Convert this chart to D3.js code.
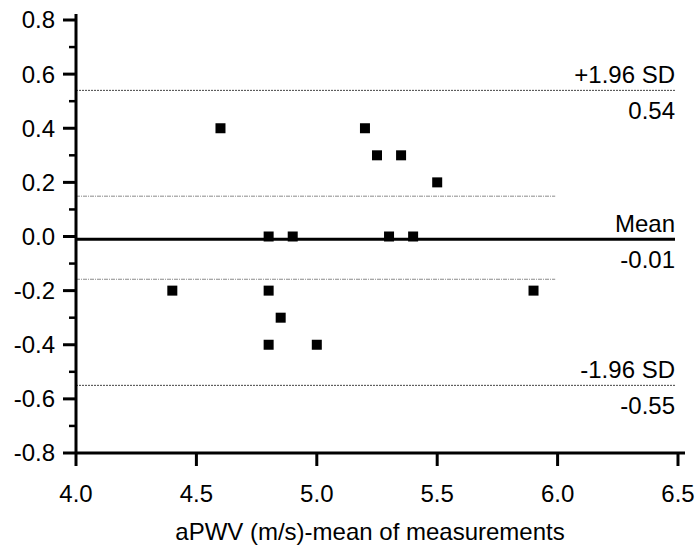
<!DOCTYPE html>
<html>
<head>
<meta charset="utf-8">
<script src="https://cdn.jsdelivr.net/npm/d3@7"></script>
<style>
  html, body { margin: 0; padding: 0; background: #fff; }
  svg text { font-family: "Liberation Sans", Arial, sans-serif; fill: #000; }
</style>
</head>
<body>
<svg id="chart" width="696" height="545"></svg>
<script>
// ---- data ----
const meanValues = [4.6, 5.2, 5.25, 5.35, 5.5, 4.8, 4.9, 5.3, 5.4, 4.4, 4.8, 5.9, 4.85, 4.8, 5.0];
const diffValues = [0.4, 0.4, 0.3, 0.3, 0.2, 0.0, 0.0, 0.0, 0.0, -0.2, -0.2, -0.2, -0.3, -0.4, -0.4];
const xTicks = [4.0, 4.5, 5.0, 5.5, 6.0, 6.5];
const yTicks = [-0.8, -0.6, -0.4, -0.2, 0.0, 0.2, 0.4, 0.6, 0.8];
const yMinorTicks = [-0.7, -0.5, -0.3, -0.1, 0.1, 0.3, 0.5, 0.7];
const meanDiff = -0.01;
const upperLoA = 0.54;
const lowerLoA = -0.55;
const ciLines = [0.149, -0.158];
const limitLabels = [
  {value: upperLoA, name: "+1.96 SD", text: "0.54"},
  {value: meanDiff, name: "Mean", text: "-0.01"},
  {value: lowerLoA, name: "-1.96 SD", text: "-0.55"}
];
const xTitle = "aPWV (m/s)-mean of measurements";

// ---- scales ----
const svg = d3.select("#chart");
const x = d3.scaleLinear().domain([4.0, 6.5]).range([76, 678]);
const y = d3.scaleLinear().domain([-0.8, 0.8]).range([453, 20]);
const fontSize = 24;

// reference lines (CI style: dash-dot light grey, up to x=6.0)
svg.selectAll(".ci").data(ciLines).join("line")
  .attr("x1", x(4.0)).attr("x2", x(5.99))
  .attr("y1", d => y(d)).attr("y2", d => y(d))
  .attr("stroke", "#8a8a8a").attr("stroke-width", 1)
  .attr("stroke-dasharray", "4,1,1,1");

// limits of agreement
svg.selectAll(".loa").data([upperLoA, lowerLoA]).join("line")
  .attr("x1", x(4.0)).attr("x2", 675)
  .attr("y1", d => y(d)).attr("y2", d => y(d))
  .attr("stroke", "#444").attr("stroke-width", 1)
  .attr("stroke-dasharray", "2,1");

// mean line
svg.append("line")
  .attr("x1", x(4.0)).attr("x2", 675)
  .attr("y1", y(meanDiff)).attr("y2", y(meanDiff))
  .attr("stroke", "#000").attr("stroke-width", 3);

// labels
const lbl = svg.append("g").attr("font-size", fontSize).attr("text-anchor", "end");
lbl.selectAll(".nm").data(limitLabels).join("text")
  .attr("x", 675).attr("y", d => y(d.value) - 7).text(d => d.name);
lbl.selectAll(".vl").data(limitLabels).join("text")
  .attr("x", 675).attr("y", d => y(d.value) + 29).text(d => d.text);

// points
const pts = meanValues.map((m, i) => ({m, d: diffValues[i]}));
const sq = 10;
svg.selectAll(".pt").data(pts).join("rect")
  .attr("x", d => x(d.m) - sq / 2).attr("y", d => y(d.d) - sq / 2)
  .attr("width", sq).attr("height", sq).attr("fill", "#000");

// y axis
const yAxisG = svg.append("g").attr("transform", `translate(${x(4.0)},0)`);
yAxisG.append("line").attr("x1", 0).attr("x2", 0).attr("y1", 14).attr("y2", y(-0.8))
  .attr("stroke", "#000").attr("stroke-width", 3);
yAxisG.selectAll(".ymaj").data(yTicks).join("line")
  .attr("x1", -13).attr("x2", 0).attr("y1", d => y(d)).attr("y2", d => y(d))
  .attr("stroke", "#000").attr("stroke-width", 3);
yAxisG.selectAll(".ymin").data(yMinorTicks).join("line")
  .attr("x1", -7).attr("x2", 0).attr("y1", d => y(d)).attr("y2", d => y(d))
  .attr("stroke", "#000").attr("stroke-width", 2.5);
yAxisG.selectAll(".ylab").data(yTicks).join("text")
  .attr("x", -21).attr("y", d => y(d)).attr("dy", "0.35em")
  .attr("text-anchor", "end").attr("font-size", fontSize)
  .text(d => d3.format(".1f")(d).replace("−", "-"));

// x axis
const xAxisG = svg.append("g").attr("transform", `translate(0,${y(-0.8)})`);
xAxisG.append("line").attr("x1", x(4.0)).attr("x2", 685).attr("y1", 0).attr("y2", 0)
  .attr("stroke", "#000").attr("stroke-width", 3);
xAxisG.selectAll(".xmaj").data(xTicks).join("line")
  .attr("x1", d => x(d)).attr("x2", d => x(d)).attr("y1", 0).attr("y2", 13)
  .attr("stroke", "#000").attr("stroke-width", 3);
xAxisG.selectAll(".xlab").data(xTicks).join("text")
  .attr("x", d => x(d)).attr("y", 49)
  .attr("text-anchor", "middle").attr("font-size", fontSize)
  .text(d => d3.format(".1f")(d));

// x title
svg.append("text")
  .attr("x", (x(4.0) + x(6.5)) / 2 - 7).attr("y", 540)
  .attr("text-anchor", "middle").attr("font-size", fontSize)
  .text(xTitle);
</script>
</body>
</html>
